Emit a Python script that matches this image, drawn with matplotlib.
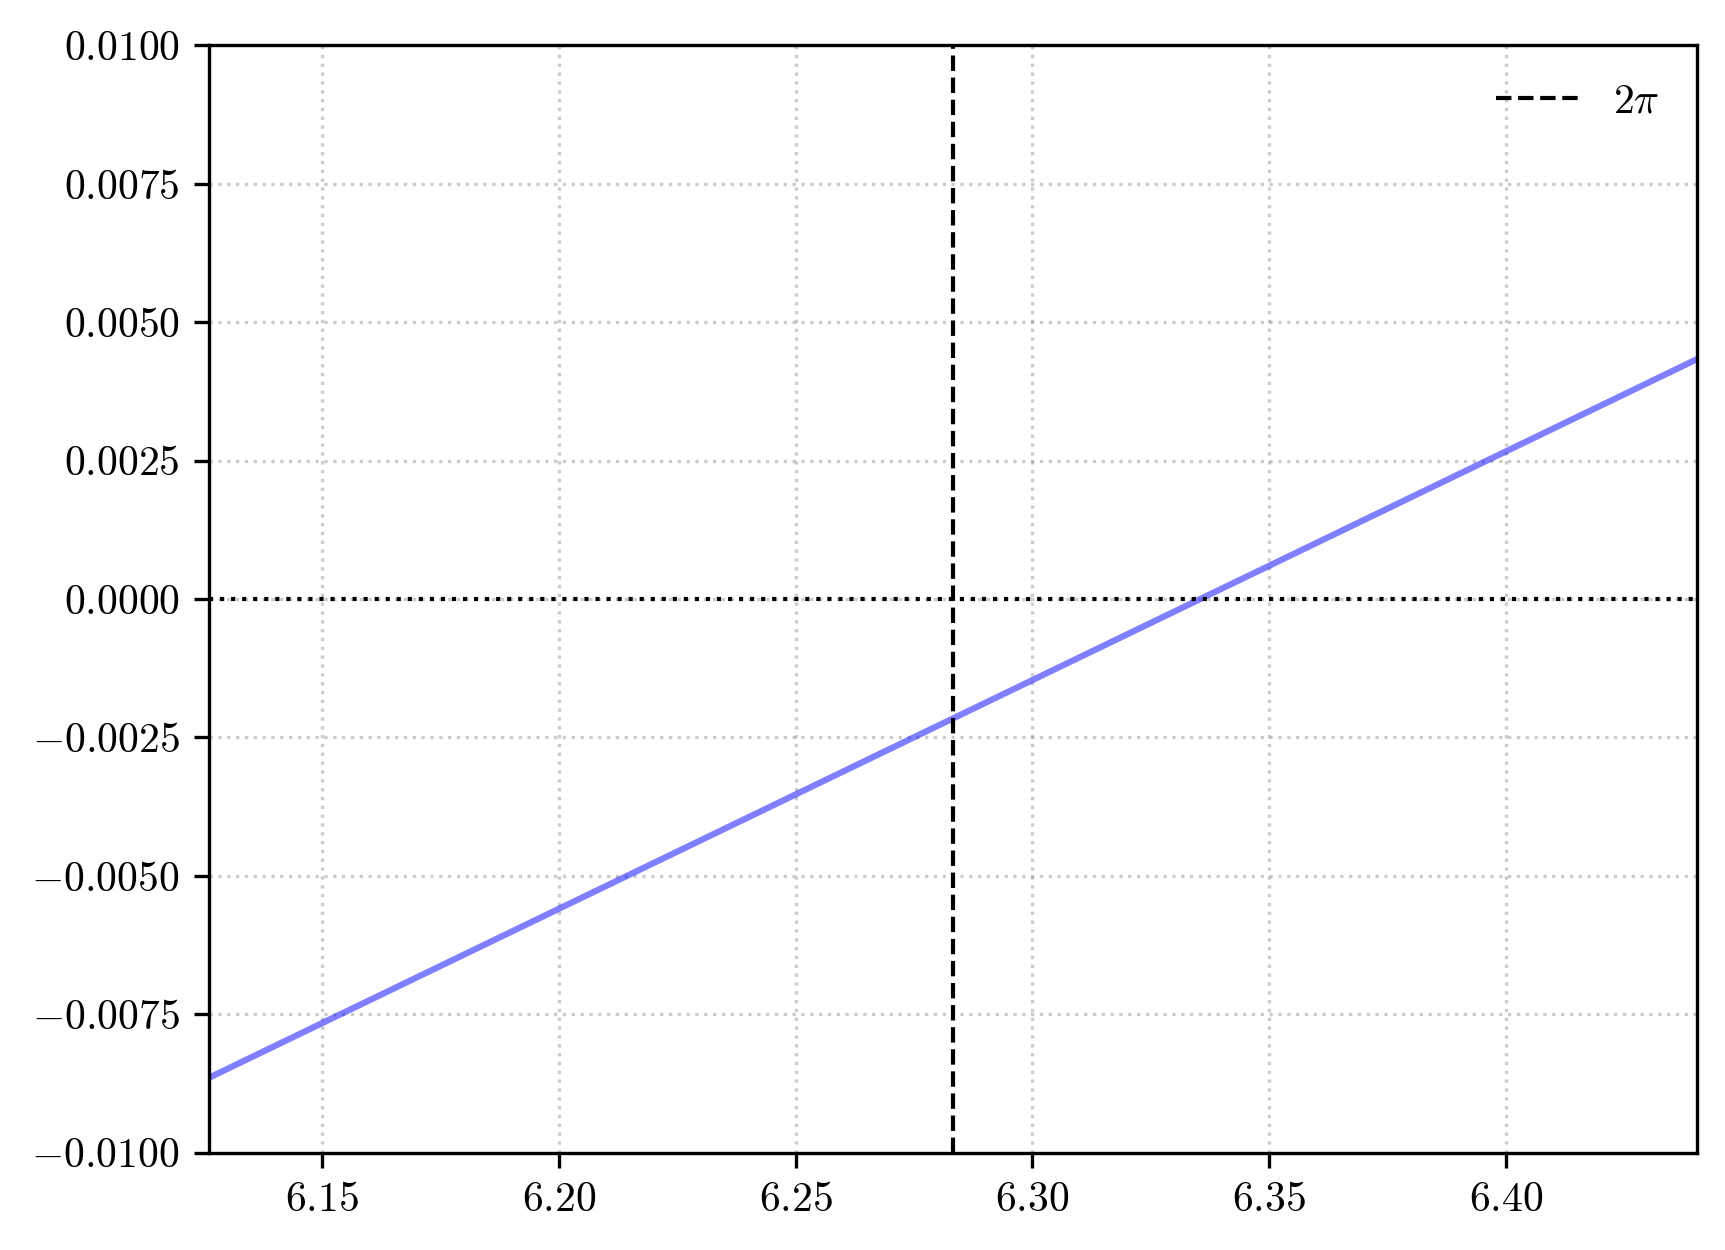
import numpy as np
import matplotlib
matplotlib.use("Agg")
import matplotlib.pyplot as plt

plt.rcParams['font.family'] = 'serif'
plt.rcParams['font.serif'] = ['cmr10']
plt.rcParams['mathtext.fontset'] = 'cm'
plt.rcParams['axes.formatter.use_mathtext'] = True
plt.rcParams['axes.unicode_minus'] = True

# Data
x_vals = [2 * np.pi - np.pi / 20, 2 * np.pi + np.pi / 20]
y_vals = [-0.00865, 0.00433]
x_ref = 2 * np.pi
x_ticks = [6.15, 6.20, 6.25, 6.30, 6.35, 6.40]
y_ticks = [-0.01, -0.0075, -0.005, -0.0025, 0.0, 0.0025, 0.005, 0.0075, 0.01]

fig = plt.figure(figsize=(1725 / 300, 1250 / 300), dpi=300)
ax = fig.add_axes([0.121, 0.0779, 0.8626, 0.8858])

ax.plot(x_vals, y_vals, color='blue', alpha=0.5, linewidth=1.5)
ax.axhline(0, color='black', linestyle=':', linewidth=1)
ax.axvline(x_ref, color='black', linestyle='--', linewidth=1, label=r'$2\pi$')

ax.set_xlim(x_vals[0], x_vals[1])
ax.set_ylim(-0.01, 0.01)
ax.set_xticks(x_ticks)
ax.set_xticklabels(['$%.2f$' % v for v in x_ticks])
ax.set_yticks(y_ticks)
ax.set_yticklabels(['$%.4f$' % v for v in y_ticks])
ax.grid(True, linestyle=':', color='gray', alpha=0.4)
ax.legend(frameon=False, loc='upper right')

fig.savefig('out.png', dpi=300)
